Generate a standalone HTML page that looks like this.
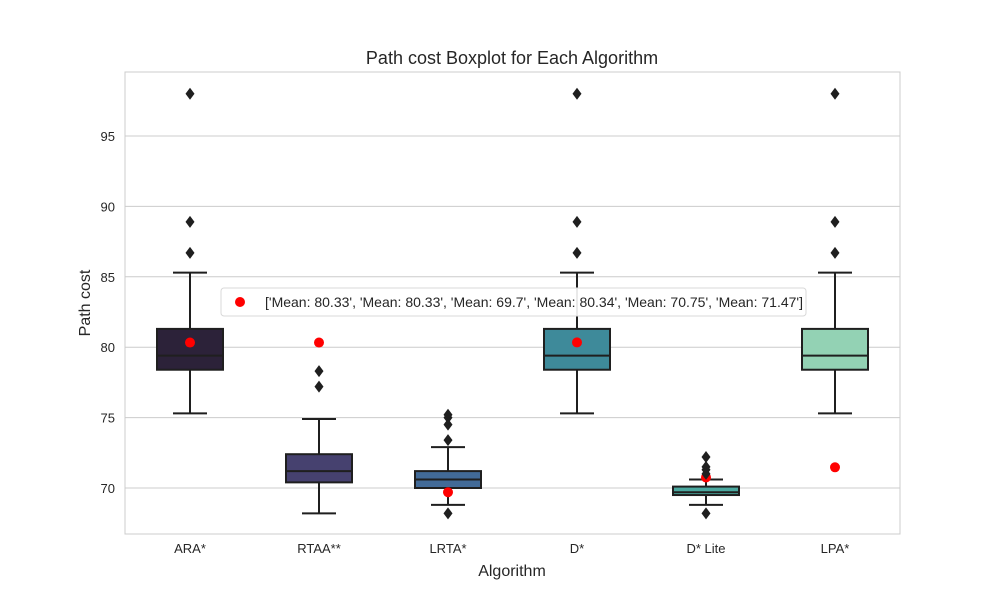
<!DOCTYPE html>
<html><head><meta charset="utf-8"><style>
body{margin:0;background:#fff;}
svg{display:block;font-family:"Liberation Sans",Arial,sans-serif;}
</style></head><body>
<svg id="chart" width="1000" height="600">
<rect x="0" y="0" width="1000" height="600" fill="#fff"/>
<text x="512" y="64" text-anchor="middle" font-size="18" fill="#262626">Path cost Boxplot for Each Algorithm</text>
<g id="grid"></g>
<rect x="125" y="72" width="775" height="462" fill="none" stroke="#cccccc" stroke-width="1"/>
<g id="marks"></g>
<text x="512" y="576" text-anchor="middle" font-size="16" fill="#262626">Algorithm</text>
<text transform="translate(90,303) rotate(-90)" text-anchor="middle" font-size="16" fill="#262626">Path cost</text>
<g>
<rect x="221" y="288" width="585" height="28" rx="3" fill="#fff" fill-opacity="0.9" stroke="#d8d8d8"/>
<circle cx="240" cy="302" r="5" fill="#ff0000"/>
<text x="265" y="307" font-size="14" fill="#262626">['Mean: 80.33', 'Mean: 80.33', 'Mean: 69.7', 'Mean: 80.34', 'Mean: 70.75', 'Mean: 71.47']</text>
</g>
</svg>
<script>
const categories=["ARA*","RTAA**","LRTA*","D*","D* Lite","LPA*"];
const colors=["#2c2239","#46416f","#426a97","#3e8a9a","#4aa89f","#93d2b4"];
const whiskLow=[75.3,68.2,68.8,75.3,68.8,75.3];
const q1=[78.4,70.4,70.0,78.4,69.5,78.4];
const median=[79.4,71.2,70.6,79.4,69.7,79.4];
const q3=[81.3,72.4,71.2,81.3,70.1,81.3];
const whiskHigh=[85.3,74.9,72.9,85.3,70.6,85.3];
const outliers=[[86.7,88.9,98.0],[77.2,78.3],[68.2,73.4,74.5,75.0,75.2],[86.7,88.9,98.0],[68.2,71.0,71.3,71.5,72.2],[86.7,88.9,98.0]];
const means=[80.33,80.33,69.7,80.34,70.75,71.47];
const yTicks=[70,75,80,85,90,95];
const NS="http://www.w3.org/2000/svg";
const y=v=>488-(v-70)*14.08;
const x=i=>190+i*129;
function mk(t,a,p){const e=document.createElementNS(NS,t);for(const k in a)e.setAttribute(k,a[k]);p.appendChild(e);return e;}
const grid=document.getElementById('grid'),marks=document.getElementById('marks');
yTicks.forEach(t=>{
 const l=mk('line',{x1:125,x2:900,y1:y(t),y2:y(t),stroke:'#cccccc'},grid);
 
 
 const tx=mk('text',{x:115,y:y(t)+5,'text-anchor':'end','font-size':13,fill:'#262626'},grid);
 tx.textContent=t;
 
 
});
categories.forEach((c,i)=>{
 const g=mk('g',{},marks);
 
 
 const cx=x(i),st={stroke:'#1f1f1f','stroke-width':2};
 mk('line',Object.assign({x1:cx,x2:cx,y1:y(whiskLow[i]),y2:y(q1[i])},st),g);
 mk('line',Object.assign({x1:cx,x2:cx,y1:y(q3[i]),y2:y(whiskHigh[i])},st),g);
 mk('line',Object.assign({x1:cx-17,x2:cx+17,y1:y(whiskLow[i]),y2:y(whiskLow[i])},st),g);
 mk('line',Object.assign({x1:cx-17,x2:cx+17,y1:y(whiskHigh[i]),y2:y(whiskHigh[i])},st),g);
 mk('rect',Object.assign({x:cx-33,y:y(q3[i]),width:66,height:y(q1[i])-y(q3[i]),fill:colors[i]},st),g);
 mk('line',Object.assign({x1:cx-33,x2:cx+33,y1:y(median[i]),y2:y(median[i])},st),g);
 const m=mk('circle',{cx:cx,cy:y(means[i]),r:5,fill:'#ff0000'},g);
 
 
 outliers[i].forEach(o=>{
  const d=mk('path',{d:`M${cx} ${y(o)-6}L${cx+4.5} ${y(o)}L${cx} ${y(o)+6}L${cx-4.5} ${y(o)}Z`,fill:'#1f1f1f'},g);
  
  
 });
 const tx=mk('text',{x:cx,y:553,'text-anchor':'middle','font-size':13,fill:'#262626'},marks);
 tx.textContent=c;
 
 
});
</script>
</body></html>
